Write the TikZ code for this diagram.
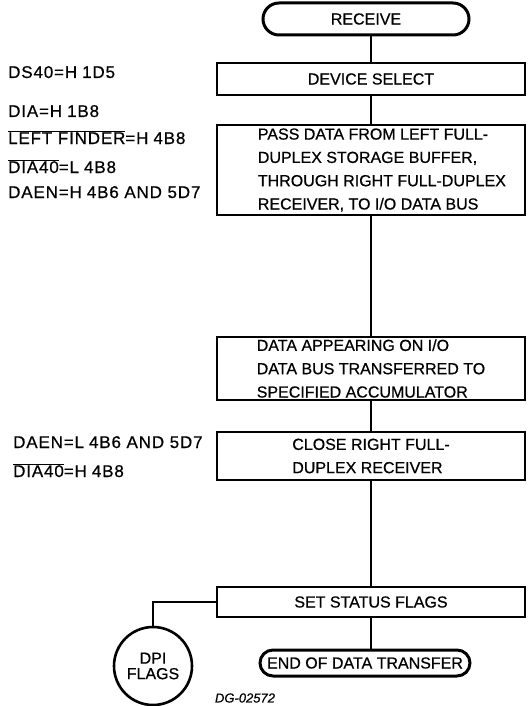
\documentclass[tikz,border=0pt]{standalone}
\usepackage{fontspec}
\setmainfont{Liberation Sans}[FakeBold=0.6]
\usepackage{tikz}
\usetikzlibrary{positioning,shapes.misc}

\newcommand{\pinsep}{\hspace{5pt}}

\begin{document}
\begin{tikzpicture}[x=1pt, y=-1pt,
    every node/.style={font=\fontsize{16}{23.3}\selectfont},
    procbox/.style={draw, line width=2.6pt, minimum width=308pt, inner sep=0pt},
    term/.style={draw, rounded rectangle, line width=3pt, inner sep=0pt},
    flow/.style={line width=2pt},
    signal/.style={anchor=base west, inner sep=0pt,
        font=\fontsize{17}{17}\selectfont\addfontfeature{LetterSpace=5}}]
    \useasboundingbox (0,0) rectangle (527,706);

    % flow boxes
    \node[term, minimum width=206pt, minimum height=32pt] (recv) at (366,19) {RECEIVE};
    \node[procbox, minimum height=32pt] (dev) at (371,79) {DEVICE SELECT};
    \node[procbox, minimum height=90pt] (pass) at (371,170) {};
    \node[align=left, anchor=west, inner sep=0pt] (passtxt) at ([xshift=42pt]pass.west)
        {PASS DATA FROM LEFT FULL-\\DUPLEX STORAGE BUFFER,\\THROUGH RIGHT FULL-DUPLEX\\RECEIVER, TO I/O DATA BUS};
    \node[procbox, minimum height=63pt, align=left] (data) at (371,368.5)
        {DATA APPEARING ON I/O\\DATA BUS TRANSFERRED TO\\SPECIFIED ACCUMULATOR};
    \node[procbox, minimum height=48pt, align=left] (close) at (371,456)
        {CLOSE RIGHT FULL-\\DUPLEX RECEIVER};
    \node[procbox, minimum height=30pt] (status) at (371,602) {SET STATUS FLAGS};
    \node[term, minimum width=210pt, minimum height=26pt] (done) at (365,663) {END OF DATA TRANSFER};
    \node[draw, circle, line width=2.6pt, minimum size=78pt, inner sep=0pt, align=center,
        font=\fontsize{16}{15.5}\selectfont] (dpi) at (153,666) {DPI\\FLAGS};
    \node[font=\fontsize{13}{13}\selectfont\itshape] (fig) at (245,698) {DG-02572};

    % connectors
    \draw[flow] (recv.south -| dev.north) -- (dev.north);
    \draw[flow] (dev) -- (pass);
    \draw[flow] (pass) -- (data);
    \draw[flow] (data) -- (close);
    \draw[flow] (close) -- (status);
    \draw[flow] (status.south) -- (status.south |- done.north);
    \draw[flow] (status.west) -| (dpi.north);

    % signal levels
    \node[signal] (ds) at (8,78) {DS40=H\pinsep 1D5};
    \node[signal] (dia) at (8,117) {DIA=H\pinsep 1B8};
    \node[signal] (lf) at (8,144) {$\overline{\mbox{LEFT FINDER}}$=H\pinsep 4B8};
    \node[signal] (dial) at (8,173) {$\overline{\mbox{DIA40}}$=L\pinsep 4B8};
    \node[signal] (daenh) at (8,198) {DAEN=H\pinsep 4B6 AND 5D7};
    \node[signal] (daenl) at (13,448) {DAEN=L\pinsep 4B6 AND 5D7};
    \node[signal] (diah) at (13,477) {$\overline{\mbox{DIA40}}$=H\pinsep 4B8};
\end{tikzpicture}
\end{document}
